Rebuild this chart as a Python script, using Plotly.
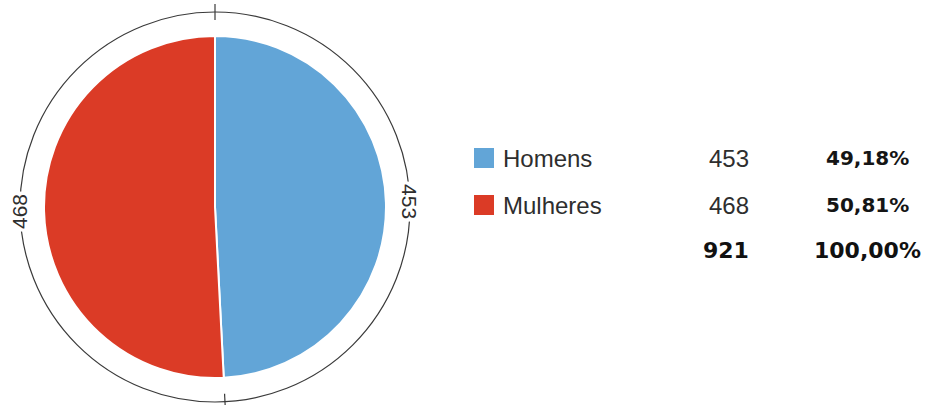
import numpy as np
import plotly.graph_objects as go

labels = ["Homens", "Mulheres"]
values = [453, 468]
percents = ["49,18%", "50,81%"]
total_label = "921"
total_pct = "100,00%"
colors = ["#62A5D7", "#DB3B26"]

W, H = 932, 405
cx, cy = 215, 207       # pie centre in px
r_pie = 171
r_ring = 195
text_col = "#2e2e2e"
font_fam = "Liberation Sans, Arial, sans-serif"
bold_fam = "DejaVu Sans, sans-serif"

def px(x):
    return x / W

def py(y):
    return (H - y) / H

fig = go.Figure()
fig.add_trace(go.Pie(
    labels=labels, values=values, sort=False, direction="clockwise", rotation=0,
    marker=dict(colors=colors, line=dict(color="white", width=2)),
    textinfo="none", showlegend=False,
    domain=dict(x=[px(cx - r_pie), px(cx + r_pie)], y=[py(cy + r_pie), py(cy - r_pie)]),
))

shapes = []
# outer ring
shapes.append(dict(type="circle", xref="paper", yref="paper",
                   x0=px(cx - r_ring), x1=px(cx + r_ring), y0=py(cy + r_ring), y1=py(cy - r_ring),
                   line=dict(color="#3a3a3a", width=1.2), layer="below"))
# ticks at slice boundaries
vals = np.array(values, dtype=float)
bounds = np.concatenate([[0], np.cumsum(vals)[:-1]]) / vals.sum() * 360
for a in bounds:
    t = np.deg2rad(a)
    x0, y0 = cx + (r_ring - 8) * np.sin(t), cy - (r_ring - 8) * np.cos(t)
    x1, y1 = cx + (r_ring + 8) * np.sin(t), cy - (r_ring + 8) * np.cos(t)
    shapes.append(dict(type="line", xref="paper", yref="paper",
                       x0=px(x0), y0=py(y0), x1=px(x1), y1=py(y1),
                       line=dict(color="#3a3a3a", width=1.2)))

annotations = []
mids = (np.cumsum(vals) - vals / 2) / vals.sum() * 360
for v, m in zip(values, mids):
    t = np.deg2rad(m)
    x, y = cx + r_ring * np.sin(t), cy - r_ring * np.cos(t)
    ang = 90 if m < 180 else -90
    annotations.append(dict(xref="paper", yref="paper", x=px(x), y=py(y), text=str(v),
                            showarrow=False, textangle=ang, bgcolor="white",
                            font=dict(family=font_fam, size=21, color=text_col),
                            xanchor="center", yanchor="middle", borderpad=2))

# table legend
row_y = [158, 205]
fs = 24
for lab, v, p, c, y in zip(labels, values, percents, colors, row_y):
    shapes.append(dict(type="rect", xref="paper", yref="paper",
                       x0=px(474), x1=px(494), y0=py(y + 10), y1=py(y - 10),
                       fillcolor=c, line=dict(width=0)))
    annotations.append(dict(xref="paper", yref="paper", x=px(501), y=py(y), text=lab,
                            showarrow=False, xanchor="left", yanchor="middle",
                            font=dict(family=font_fam, size=fs, color=text_col)))
    annotations.append(dict(xref="paper", yref="paper", x=px(751), y=py(y), text=str(v),
                            showarrow=False, xanchor="right", yanchor="middle",
                            font=dict(family=font_fam, size=fs, color=text_col)))
    annotations.append(dict(xref="paper", yref="paper", x=px(867), y=py(y), text="<b>" + p + "</b>",
                            showarrow=False, xanchor="center", yanchor="middle",
                            font=dict(family=bold_fam, size=20, color="#151515")))
ty = 250
annotations.append(dict(xref="paper", yref="paper", x=px(751), y=py(ty), text="<b>" + total_label + "</b>",
                        showarrow=False, xanchor="right", yanchor="middle",
                        font=dict(family=bold_fam, size=22, color="#111111")))
annotations.append(dict(xref="paper", yref="paper", x=px(867), y=py(ty), text="<b>" + total_pct + "</b>",
                        showarrow=False, xanchor="center", yanchor="middle",
                        font=dict(family=bold_fam, size=22, color="#111111")))

fig.update_layout(
    width=W, height=H, margin=dict(l=0, r=0, t=0, b=0),
    paper_bgcolor="white", plot_bgcolor="white",
    shapes=shapes, annotations=annotations, showlegend=False,
)
fig.write_html("out.html", config={"displayModeBar": False},
               post_script="document.body.style.margin='0';document.body.style.overflow='hidden';")
